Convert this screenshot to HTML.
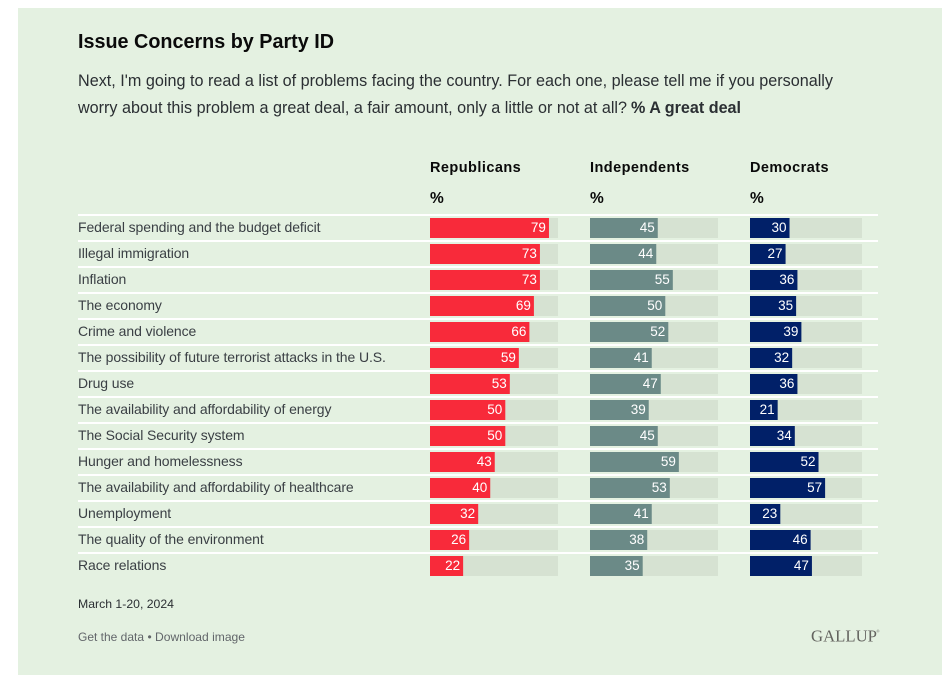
<!DOCTYPE html>
<html>
<head>
<meta charset="utf-8">
<style>
html,body{margin:0;padding:0;background:#fff;width:942px;height:681px;overflow:hidden}
svg{display:block}
text{font-family:"Liberation Sans",sans-serif}
a{cursor:pointer}
</style>
</head>
<body>
<svg id="chart" width="942" height="681" viewBox="0 0 942 681" xmlns="http://www.w3.org/2000/svg">
  <rect x="18" y="8" width="924" height="667" fill="#e4f1e1"/>
  <text x="78" y="48" font-size="20" font-weight="700" fill="#0a0a0a" textLength="256" lengthAdjust="spacingAndGlyphs">Issue Concerns by Party ID</text>
  <text x="78" y="86" font-size="16.5" fill="#2b2f33" textLength="755" lengthAdjust="spacingAndGlyphs">Next, I'm going to read a list of problems facing the country. For each one, please tell me if you personally</text>
  <text x="78" y="113" font-size="16.5" fill="#2b2f33" textLength="549" lengthAdjust="spacingAndGlyphs">worry about this problem a great deal, a fair amount, only a little or not at all?</text>
  <text x="631" y="113" font-size="16.5" font-weight="700" fill="#2b2f33" textLength="110" lengthAdjust="spacingAndGlyphs">% A great deal</text>
  <g id="rows"></g>
  <g id="headers"></g>
  <text x="78" y="608" font-size="12" fill="#2b2f33" textLength="96" lengthAdjust="spacingAndGlyphs">March 1-20, 2024</text>
  <a><text x="78" y="641" font-size="12" fill="#62666a" textLength="66" lengthAdjust="spacingAndGlyphs">Get the data</text></a>
  <text x="147.500" y="641" font-size="12" fill="#62666a">•</text>
  <a><text x="155" y="641" font-size="12" fill="#62666a" textLength="90" lengthAdjust="spacingAndGlyphs">Download image</text></a>
  <text x="811" y="641.500" font-size="17" fill="#63635f" textLength="66" lengthAdjust="spacingAndGlyphs" style="font-family:'Liberation Serif',serif">GALLUP</text>
  <text x="876.500" y="632.500" font-size="4" fill="#63635f">®</text>
</svg>
<script>
const categories = [
  "Federal spending and the budget deficit",
  "Illegal immigration",
  "Inflation",
  "The economy",
  "Crime and violence",
  "The possibility of future terrorist attacks in the U.S.",
  "Drug use",
  "The availability and affordability of energy",
  "The Social Security system",
  "Hunger and homelessness",
  "The availability and affordability of healthcare",
  "Unemployment",
  "The quality of the environment",
  "Race relations"
];
const seriesNames = ["Republicans", "Independents", "Democrats"];
const republicans = [79, 73, 73, 69, 66, 59, 53, 50, 50, 43, 40, 32, 26, 22];
const independents = [45, 44, 55, 50, 52, 41, 47, 39, 45, 59, 53, 41, 38, 35];
const democrats = [30, 27, 36, 35, 39, 32, 36, 21, 34, 52, 57, 23, 46, 47];
const axisMax = 85;

const NS = 'http://www.w3.org/2000/svg';
function make(tag, attrs, text) {
  const el = document.createElementNS(NS, tag);
  for (const k in attrs) el.setAttribute(k, attrs[k]);
  if (text !== undefined) el.textContent = text;
  return el;
}
function columnX(col) { return 430 + col * 160; }
function trackWidth(col) { return col === 2 ? 112 : 128; }
function barWidth(value, col) { return value / axisMax * trackWidth(col); }
function rowY(row) { return 214 + row * 26; }

const rows = document.getElementById('rows');
const headers = document.getElementById('headers');
const seriesValues = [republicans, independents, democrats];
const seriesColors = ['#f82a3a', '#6b8a87', '#012068'];

seriesNames.forEach(function (name, col) {
  const head = make('text', { x: columnX(col), y: 172, 'font-size': 14.5, 'font-weight': 700, fill: '#0a0a0a', 'letter-spacing': 0.45 }, name);
  
  
  headers.appendChild(head);
  const unit = make('text', { x: columnX(col), y: 203, 'font-size': 15.5, 'font-weight': 700, fill: '#0a0a0a' }, '%');
  
  
  headers.appendChild(unit);
});

categories.forEach(function (label, row) {
  const y = rowY(row);
  const rule = make('rect', { x: 78, y: y, width: 800, height: 2, fill: '#ffffff' });
  
  
  rows.appendChild(rule);

  const text = make('text', { x: 78, y: y + 18, 'font-size': 14, fill: '#3a3f44', 'letter-spacing': -0.09 }, label);
  
  
  rows.appendChild(text);

  seriesValues.forEach(function (values, col) {
    const x = columnX(col);
    const track = make('rect', { x: x, y: y + 4, width: trackWidth(col), height: 20, fill: '#d6e2d2' });
    
    
    rows.appendChild(track);

    const w = barWidth(values[row], col);
    const bar = make('rect', { x: x, y: y + 4, width: w, height: 20, fill: seriesColors[col] });
    
    
    rows.appendChild(bar);

    const val = make('text', { x: x + w - 3, y: y + 18, 'font-size': 13.5, fill: '#ffffff', 'text-anchor': 'end' }, values[row]);
    
    
    rows.appendChild(val);
  });
});
</script>
</body>
</html>
